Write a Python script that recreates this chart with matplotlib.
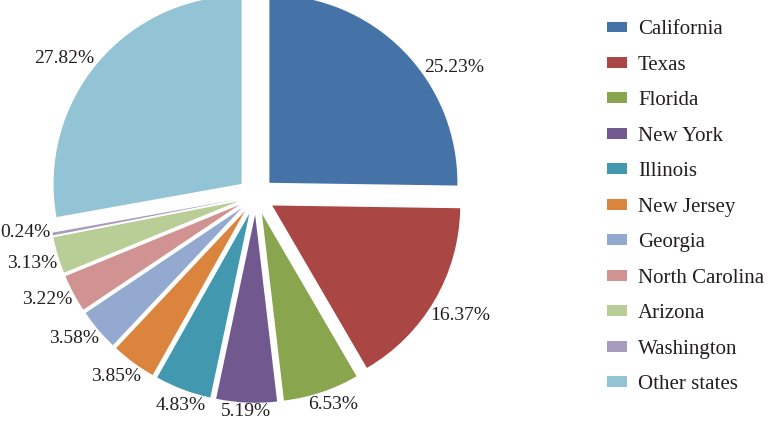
import numpy as np
import matplotlib
matplotlib.use("Agg")
import matplotlib.pyplot as plt

# Anteile der Staaten (Prozent)
states = ["California", "Texas", "Florida", "New York", "Illinois", "New Jersey",
          "Georgia", "North Carolina", "Arizona", "Washington", "Other states"]
shares = [25.23, 16.37, 6.53, 5.19, 4.83, 3.85, 3.58, 3.22, 3.13, 0.24, 27.82]
colors = ["#4572A7", "#AA4643", "#89A54E", "#71588F", "#4198AF", "#DB843D",
          "#93A9CF", "#D19392", "#B9CD96", "#A99BBD", "#93C4D5"]

# kleine Winkelkorrekturen fuer die Beschriftungen (Grad)
label_shift = [-12.7, 0, 2, 0, 1, -1.7, -2.4, -1.9, 0, -1.8, 4.7]

plt.rcParams['font.family'] = ['Liberation Serif', 'DejaVu Serif']
txt_color = "#231F20"

fig = plt.figure(figsize=(7.84, 4.22), dpi=100)
ax = fig.add_axes([0, 0, 1, 1])

wedges, _ = ax.pie(shares, colors=colors, startangle=90, counterclock=False,
                   explode=[0.1] * len(shares), radius=1,
                   wedgeprops=dict(linewidth=0))

# Achsen so, dass Radius 1 = 188 px und Mitte bei (256, 196) px
px = 188.0
ax.set_xlim(-256 / px, (784 - 256) / px)
ax.set_ylim(-(422 - 196) / px, 196 / px)
ax.set_aspect('equal', adjustable='box')
ax.axis('off')

renderer = fig.canvas.get_renderer()
gap = 1.0 / px
for w, val, sh in zip(wedges, shares, label_shift):
    ang = np.deg2rad((w.theta1 + w.theta2) / 2 + sh)
    t = ax.text(0, 0, f"{val:.2f}%", ha='center', va='center',
                fontsize=14, color=txt_color)
    bb = t.get_window_extent(renderer)
    hw = bb.width / 2 / px
    hh = bb.height / 2 / px * 0.75
    d = w.r + gap + hw * abs(np.cos(ang)) + hh * abs(np.sin(ang))
    cx, cy = w.center
    t.set_position((cx + d * np.cos(ang), cy + d * np.sin(ang)))

fig.legend(wedges, states, loc='upper left', bbox_to_anchor=(597 / 784, 1 - 10 / 422),
           frameon=False, fontsize=15, handlelength=0.92, handleheight=0.43,
           handletextpad=0.55, labelspacing=0.79, borderpad=0,
           labelcolor=txt_color)

fig.savefig("out.png", dpi=100)
